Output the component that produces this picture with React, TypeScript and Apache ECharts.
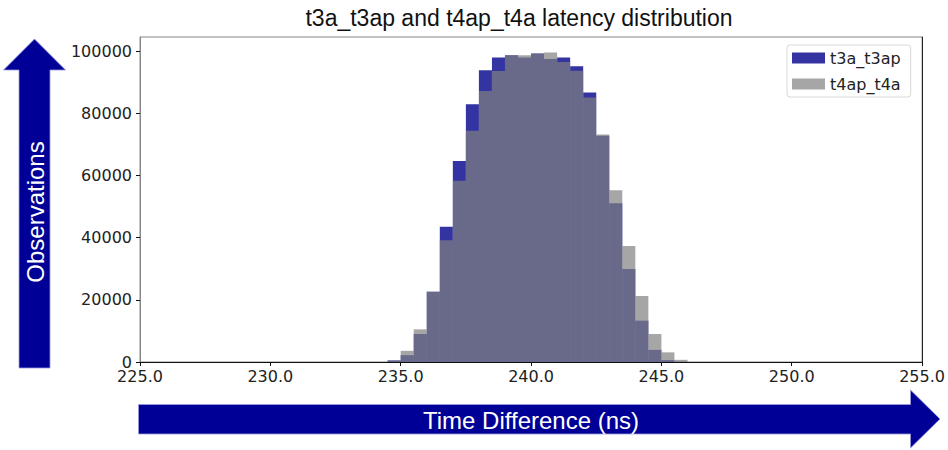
import React, { useEffect, useRef } from "react";
import * as echarts from "echarts";

const binStarts = [234.5, 235.0, 235.5, 236.0, 236.5, 237.0, 237.5, 238.0, 238.5, 239.0, 239.5, 240.0, 240.5, 241.0, 241.5, 242.0, 242.5, 243.0, 243.5, 244.0, 244.5, 245.0, 245.5];
const binWidth = 0.5;
const t3aCounts = [500, 2200, 9000, 22600, 43500, 64700, 82900, 93900, 98000, 98700, 98000, 99300, 97500, 98000, 95200, 86700, 72800, 51100, 29900, 13300, 3900, 600, 50];
const t4apCounts = [500, 3600, 10500, 22600, 39200, 58300, 74400, 87200, 93600, 98700, 98700, 99300, 99600, 96500, 93700, 85100, 73200, 55300, 37300, 21200, 9000, 3100, 700];
const seriesNames = ["t3a_t3ap", "t4ap_t4a"];
const xTicks = [225, 230, 235, 240, 245, 250, 255];
const yTicks = [0, 20000, 40000, 60000, 80000, 100000];
const titleText = "t3a_t3ap and t4ap_t4a latency distribution";
const xLabelText = "Time Difference (ns)";
const yLabelText = "Observations";

const COLORS = ["rgba(0,0,139,0.8)", "rgba(128,128,128,0.7)"];
const ARROW = "#000096";
const TICK_FONT = "DejaVu Sans";
const MAIN_FONT = "Liberation Sans";

function histSeries(name: string, counts: number[], color: string) {
  return {
    type: "custom",
    name,
    xAxisIndex: 0,
    yAxisIndex: 0,
    itemStyle: { color },
    encode: { x: [0, 1], y: 2 },
    data: binStarts.map((s, i) => [s, s + binWidth, counts[i]]),
    renderItem: (params: any, api: any) => {
      const p0 = api.coord([api.value(0), api.value(2)]);
      const p1 = api.coord([api.value(1), 0]);
      return {
        type: "rect",
        shape: { x: p0[0], y: p0[1], width: p1[0] - p0[0], height: p1[1] - p0[1] },
        style: { fill: color },
      };
    },
  };
}

export default function App() {
  const ref = useRef<HTMLDivElement>(null);
  useEffect(() => {
    const chart = echarts.init(ref.current!, null, { renderer: "svg" });
    const yMax = Math.max(...t3aCounts, ...t4apCounts) * 1.05;
    chart.setOption({
      animation: false,
      backgroundColor: "#ffffff",
      title: {
        text: titleText,
        left: 514,
        top: 1,
        textAlign: "center",
        textStyle: { fontFamily: MAIN_FONT, fontSize: 23, fontWeight: "normal", color: "#111" },
      },
      legend: {
        left: 787,
        top: 45,
        orient: "vertical",
        padding: [5, 10, 5, 5],
        itemGap: 10,
        itemWidth: 33,
        itemHeight: 11,
        itemTextGap: 14,
        icon: "rect",
        backgroundColor: "#fff",
        borderColor: "#d8d8d8",
        borderWidth: 1,
        borderRadius: 3,
        textStyle: { fontFamily: TICK_FONT, fontSize: 16, color: "#222", lineHeight: 16 },
        data: seriesNames.map((n, i) => ({ name: n, itemStyle: { color: COLORS[i] } })),
      },
      grid: {
        left: 140,
        right: 24,
        top: 37,
        bottom: 88,
        show: true,
        borderColor: "#888",
        borderWidth: 1,
        backgroundColor: "transparent",
      },
      xAxis: {
        type: "value",
        min: xTicks[0],
        max: xTicks[xTicks.length - 1],
        interval: 5,
        splitLine: { show: false },
        axisLine: { show: true, onZero: false, lineStyle: { color: "#111", width: 1 } },
        axisTick: { show: true, length: 4, lineStyle: { color: "#111" } },
        axisLabel: {
          margin: 6,
          fontFamily: TICK_FONT,
          fontSize: 16,
          color: "#222",
          formatter: (v: number) => v.toFixed(1),
        },
      },
      yAxis: [
        {
          type: "value",
          min: 0,
          max: yMax,
          splitLine: { show: false },
          axisLine: { show: true, lineStyle: { color: "#888", width: 1 } },
          axisTick: { show: true, length: 4, customValues: yTicks, lineStyle: { color: "#111" } },
          axisLabel: {
            margin: 8,
            fontFamily: TICK_FONT,
            fontSize: 16,
            color: "#222",
            customValues: yTicks,
            formatter: (v: number) => String(Math.round(v)),
          },
        },
        {
          type: "value",
          position: "right",
          min: 0,
          max: yMax,
          splitLine: { show: false },
          axisLine: { show: true, lineStyle: { color: "#222", width: 1 } },
          axisTick: { show: false },
          axisLabel: { show: false },
        },
      ],
      graphic: [
        {
          type: "polygon",
          shape: {
            points: [
              [19, 368], [19, 70], [3.5, 70], [34.5, 39], [65.5, 70], [50, 70], [50, 368],
            ],
          },
          style: { fill: ARROW, stroke: "#9a9ae0", lineWidth: 0.8 },
        },
        {
          type: "text",
          x: 35,
          y: 212,
          rotation: Math.PI / 2,
          style: {
            text: yLabelText,
            fill: "#fff",
            fontFamily: MAIN_FONT,
            fontSize: 24,
            align: "center",
            verticalAlign: "middle",
          },
        },
        {
          type: "polygon",
          shape: {
            points: [
              [138.5, 404.5], [910.5, 404.5], [910.5, 390], [940, 419], [910.5, 448], [910.5, 434], [138.5, 434],
            ],
          },
          style: { fill: ARROW, stroke: "#9a9ae0", lineWidth: 0.8 },
        },
        {
          type: "text",
          x: 531,
          y: 420,
          style: {
            text: xLabelText,
            fill: "#fff",
            fontFamily: MAIN_FONT,
            fontSize: 24,
            align: "center",
            verticalAlign: "middle",
          },
        },
      ],
      series: [
        histSeries(seriesNames[0], t3aCounts, COLORS[0]),
        histSeries(seriesNames[1], t4apCounts, COLORS[1]),
      ],
    });
    return () => chart.dispose();
  }, []);
  return <div ref={ref} style={{ width: 948, height: 450, position: "absolute", left: 0, top: 0 }} />;
}
